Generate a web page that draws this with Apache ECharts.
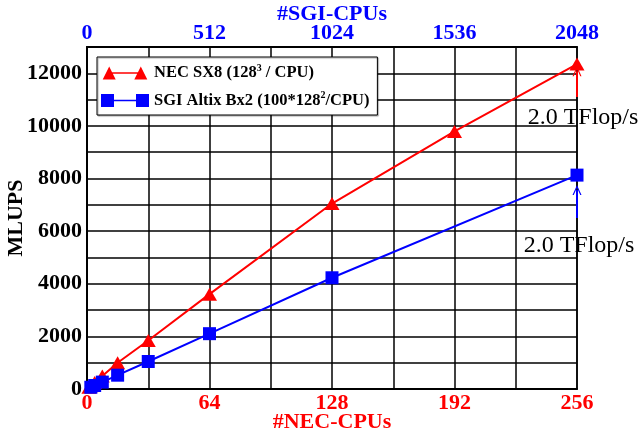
<!DOCTYPE html>
<html><head><meta charset="utf-8">
<script src="https://cdn.jsdelivr.net/npm/echarts@6/dist/echarts.min.js"></script>
<style>html,body{margin:0;padding:0;background:#fff}#c{width:639px;height:435px}</style>
</head><body><div id="c"></div>
<script>
const necCpus = [1, 2, 4, 8, 16, 32, 64, 128, 192, 256];
const necMlups = [62, 124, 245, 490, 996, 1844, 3605, 7050, 9790, 12350];
const sgiCpus = [16, 32, 64, 128, 256, 512, 1024, 2048];
const sgiMlups = [66, 132, 262, 525, 1046, 2103, 4228, 8130];
const necTicks = [0, 64, 128, 192, 256];
const sgiTicks = [0, 512, 1024, 1536, 2048];
const yTicks = [0, 2000, 4000, 6000, 8000, 10000, 12000];
const flopLabel = '2.0 TFlop/s';
const necName = 'NEC SX8 (128³ / CPU)';
const sgiName = 'SGI Altix Bx2 (100*128²/CPU)';

const serif = 'Liberation Serif';
const chart = echarts.init(document.getElementById('c'), null, {renderer: 'canvas'});
const triIcon = 'path://M0,14 L7,0 L14,14 Z M7,6.3 L41,6.3 L41,7.7 L7,7.7 Z M34,14 L41,0 L48,14 Z';
const sqIcon = 'path://M0,0 L13,0 L13,13 L0,13 Z M13,5.8 L35,5.8 L35,7.2 L13,7.2 Z M35,0 L48,0 L48,13 L35,13 Z';
const chevron = 'path://M0,10 L5,0 L10,10 L8.6,10 L5,2.6 L1.4,10 Z';

chart.setOption({
  animation: false,
  textStyle: {fontFamily: serif},
  grid: {left: 87, right: 62, top: 47, bottom: 46, show: true, borderColor: '#000', borderWidth: 1.5,
    containLabel: false, outerBoundsMode: 'none'},
  legend: {
    orient: 'vertical', left: 97, top: 57, padding: [6, 8, 6, 4],
    backgroundColor: '#fff', borderColor: '#000', borderWidth: 1,
    shadowColor: 'rgba(0,0,0,0.35)', shadowOffsetX: 1, shadowOffsetY: 1, shadowBlur: 1,
    itemWidth: 48, itemHeight: 13, itemGap: 9,
    data: [{name: necName, icon: triIcon}, {name: sgiName, icon: sqIcon}],
    formatter: function (n) {
      if (n === necName) return '{a|NEC SX8 (128}{s|3}{a| / CPU)}';
      return '{a|SGI Altix Bx2 (100*128}{s|2}{a|/CPU)}';
    },
    textStyle: {
      fontFamily: serif, fontWeight: 'bold', color: '#000',
      rich: {
        a: {fontFamily: serif, fontWeight: 'bold', fontSize: 16.5, color: '#000'},
        s: {fontFamily: serif, fontWeight: 'bold', fontSize: 10, color: '#000', verticalAlign: 'top', padding: [0, 0, 10, 0]}
      }
    }
  },
  xAxis: [{
    type: 'value', min: 0, max: 256, interval: 32, position: 'bottom',
    name: '#NEC-CPUs', nameLocation: 'middle', nameGap: 22, nameMoveOverlap: false,
    nameTextStyle: {color: '#ff0000', fontWeight: 'bold', fontSize: 22, fontFamily: serif},
    axisLine: {show: true, lineStyle: {color: '#000', width: 2}},
    axisTick: {show: false},
    axisLabel: {color: '#ff0000', fontWeight: 'bold', fontSize: 22, fontFamily: serif, margin: 3,
      formatter: v => necTicks.includes(v) ? String(v) : ''},
    splitLine: {show: true, lineStyle: {color: '#000', width: 1.5}}
  }, {
    type: 'value', min: 0, max: 2048, interval: 512, position: 'top',
    name: '#SGI-CPUs', nameLocation: 'middle', nameGap: 22, nameMoveOverlap: false,
    nameTextStyle: {color: '#0000ff', fontWeight: 'bold', fontSize: 22, fontFamily: serif},
    axisLine: {show: true, lineStyle: {color: '#000', width: 2}},
    axisTick: {show: false},
    axisLabel: {color: '#0000ff', fontWeight: 'bold', fontSize: 22, fontFamily: serif, margin: 3,
      formatter: v => sgiTicks.includes(v) ? String(v) : ''},
    splitLine: {show: false}
  }],
  yAxis: {
    type: 'value', min: 0, max: 13000, interval: 1000,
    name: 'MLUPS', nameLocation: 'middle', nameGap: 60, nameRotate: 90, nameMoveOverlap: false,
    nameTextStyle: {color: '#000', fontWeight: 'bold', fontSize: 22, fontFamily: serif},
    axisLine: {show: true, lineStyle: {color: '#000', width: 2}},
    axisTick: {show: false},
    axisLabel: {color: '#000', fontWeight: 'bold', fontSize: 22, fontFamily: serif, margin: 5,
      formatter: v => yTicks.includes(v) ? String(v) : ''},
    splitLine: {show: true, lineStyle: {color: '#000', width: 1.5}}
  },
  series: [{
    name: necName, type: 'line', xAxisIndex: 0,
    data: necCpus.map((c, i) => [c, necMlups[i]]),
    symbol: 'triangle', symbolSize: [15, 13],
    lineStyle: {color: '#ff0000', width: 2}, itemStyle: {color: '#ff0000'},
    z: 5,
    markLine: {
      silent: true, symbol: ['none', chevron], symbolSize: [9, 10],
      lineStyle: {color: '#ff0000', width: 2, type: 'solid'}, label: {show: false},
      data: [[{coord: [256, 11100]}, {coord: [256, 12080]}]]
    },
    markPoint: {
      silent: true, symbol: 'rect', symbolSize: 0,
      data: [{coord: [256, 10330]}],
      label: {show: true, formatter: flopLabel, color: '#000', fontSize: 24, fontFamily: serif,
        position: 'inside', offset: [6, 0]}
    }
  }, {
    name: sgiName, type: 'line', xAxisIndex: 1,
    data: sgiCpus.map((c, i) => [c, sgiMlups[i]]),
    symbol: 'rect', symbolSize: 13,
    lineStyle: {color: '#0000ff', width: 2}, itemStyle: {color: '#0000ff'},
    z: 5,
    markLine: {
      silent: true, symbol: ['none', chevron], symbolSize: [9, 10],
      lineStyle: {color: '#0000ff', width: 2, type: 'solid'}, label: {show: false},
      data: [[{coord: [2048, 6500]}, {coord: [2048, 7560]}]]
    },
    markPoint: {
      silent: true, symbol: 'rect', symbolSize: 0,
      data: [{coord: [2048, 5430]}],
      label: {show: true, formatter: flopLabel, color: '#000', fontSize: 24, fontFamily: serif,
        position: 'inside', offset: [2, 0]}
    }
  }]
});
</script></body></html>
